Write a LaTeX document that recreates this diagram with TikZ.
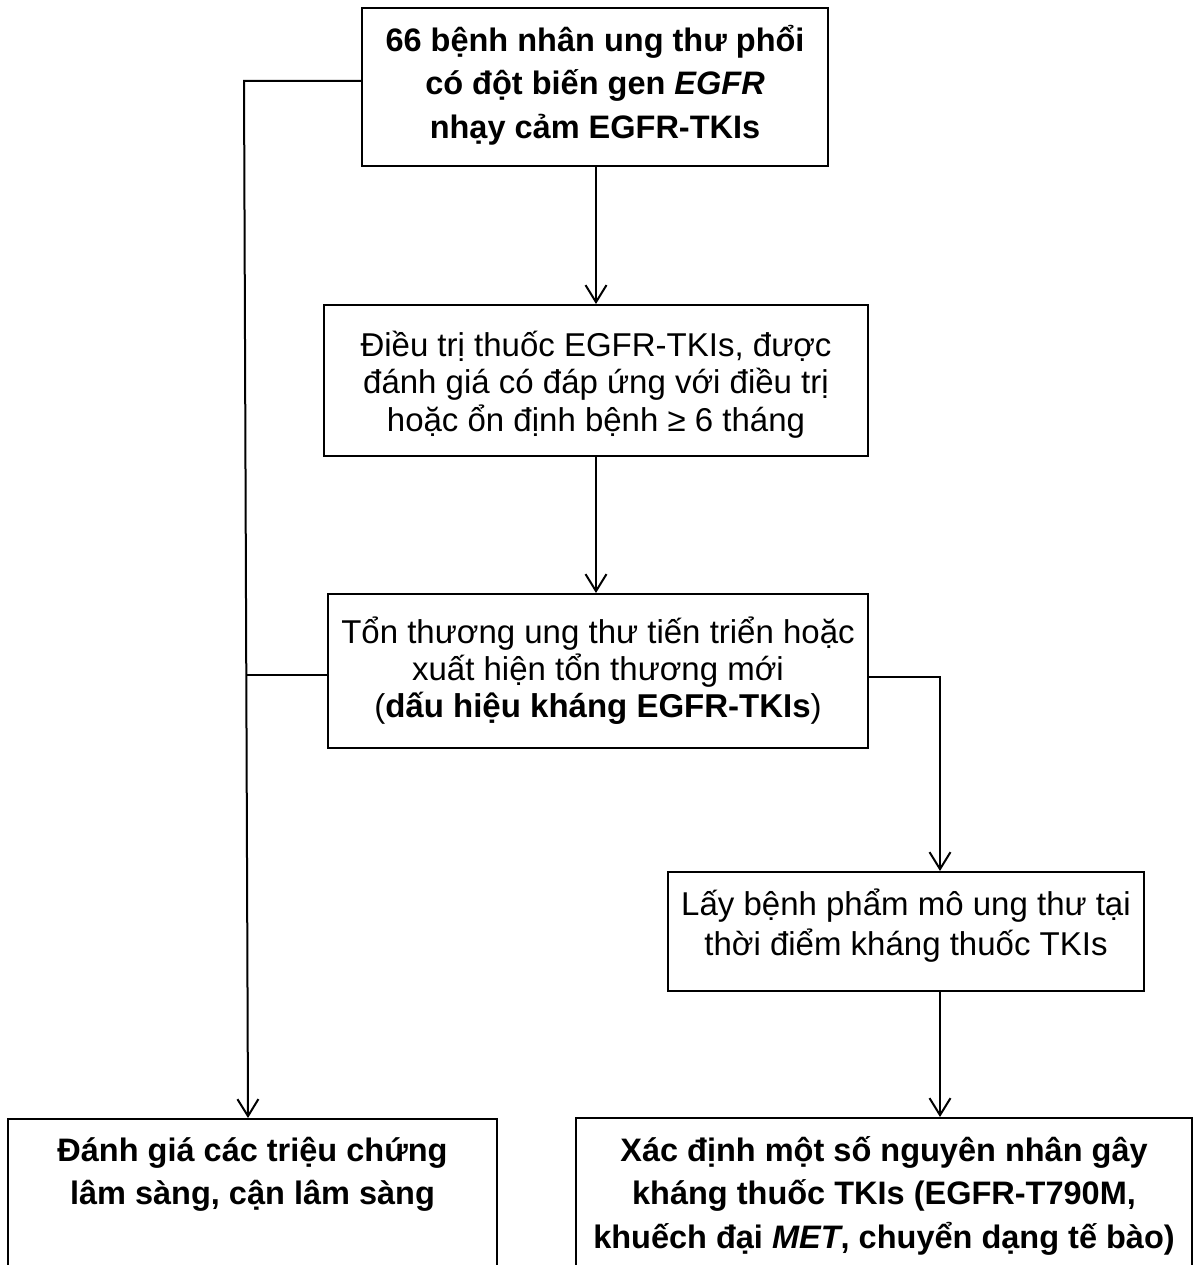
\documentclass[tikz,border=0pt]{standalone}
\usepackage{fontspec}
\setmainfont{Liberation Sans}
\usetikzlibrary{arrows.meta}
\newcommand\myTop[1]{\rule{0pt}{#1pt}}
\newcommand\myBot[1]{\rule[-#1pt]{0pt}{#1pt}}
\begin{document}
\begin{tikzpicture}[x=1pt,y=-1pt,
  box/.style={draw=black, line width=2pt, align=center, inner sep=0pt, fill=white},
  conn/.style={line width=2pt, -{Straight Barb[length=17pt,width=21pt]}},
  plain/.style={line width=2pt}]
\useasboundingbox (0,0) rectangle (1194,1265);
\clip (0,0) rectangle (1194,1265);
\fill[white] (0,0) rectangle (1194,1265);

\node[box, font=\fontsize{32.5}{43.5}\selectfont\bfseries, minimum width=466pt, minimum height=158pt] (b1) at (595,87)
  {\myTop{40}66 bệnh nhân ung thư phổi\\ có đột biến gen \textit{EGFR}\\ nhạy cảm EGFR-TKIs\myBot{24}};
\node[box, font=\fontsize{33}{37.5}\selectfont, minimum width=544pt, minimum height=151pt] (b2) at (596,380.5)
  {\myTop{44}Điều trị thuốc EGFR-TKIs, được\\ đánh giá có đáp ứng với điều trị\\ hoặc ổn định bệnh ≥ 6 tháng\myBot{18}};
\node[box, font=\fontsize{33}{37}\selectfont, minimum width=540pt, minimum height=154pt] (b3) at (598,671)
  {\myTop{40}Tổn thương ung thư tiến triển hoặc\\ xuất hiện tổn thương mới\\ (\textbf{dấu hiệu kháng EGFR-TKIs})\myBot{22}};
\node[box, font=\fontsize{33}{40}\selectfont, minimum width=476pt, minimum height=119pt] (b4) at (906,931.5)
  {\myTop{40}Lấy bệnh phẩm mô ung thư tại\\ thời điểm kháng thuốc TKIs\myBot{32}};
\node[box, font=\fontsize{32.5}{43.5}\selectfont\bfseries, minimum width=616pt, minimum height=150pt] (b5) at (884,1193)
  {\myTop{42}Xác định một số nguyên nhân gây\\ kháng thuốc TKIs (EGFR-T790M,\\ khuếch đại \textit{MET}, chuyển dạng tế bào)\myBot{19}};
\node[box, font=\fontsize{32.5}{43}\selectfont\bfseries, minimum width=489pt, minimum height=150pt] (b6) at (252.5,1194)
  {\myTop{40}Đánh giá các triệu chứng\\ lâm sàng, cận lâm sàng\myBot{63}};

\coordinate (L1) at (244,81);
\coordinate (L2) at (248,1119);
\coordinate (J) at (247,675);
\coordinate (R) at (940,677);
\coordinate (C) at (596,0);

\draw[conn] (C |- b1.south) -- (C |- b2.north);
\draw[conn] (C |- b2.south) -- (C |- b3.north);
\draw[conn] (b1.west |- L1) -- (L1) -- (L2 |- b6.north);
\draw[plain] (b3.west |- J) -- (J);
\draw[conn] (b3.east |- R) -- (R) -- (R |- b4.north);
\draw[conn] (R |- b4.south) -- (R |- b5.north);
\end{tikzpicture}
\end{document}
